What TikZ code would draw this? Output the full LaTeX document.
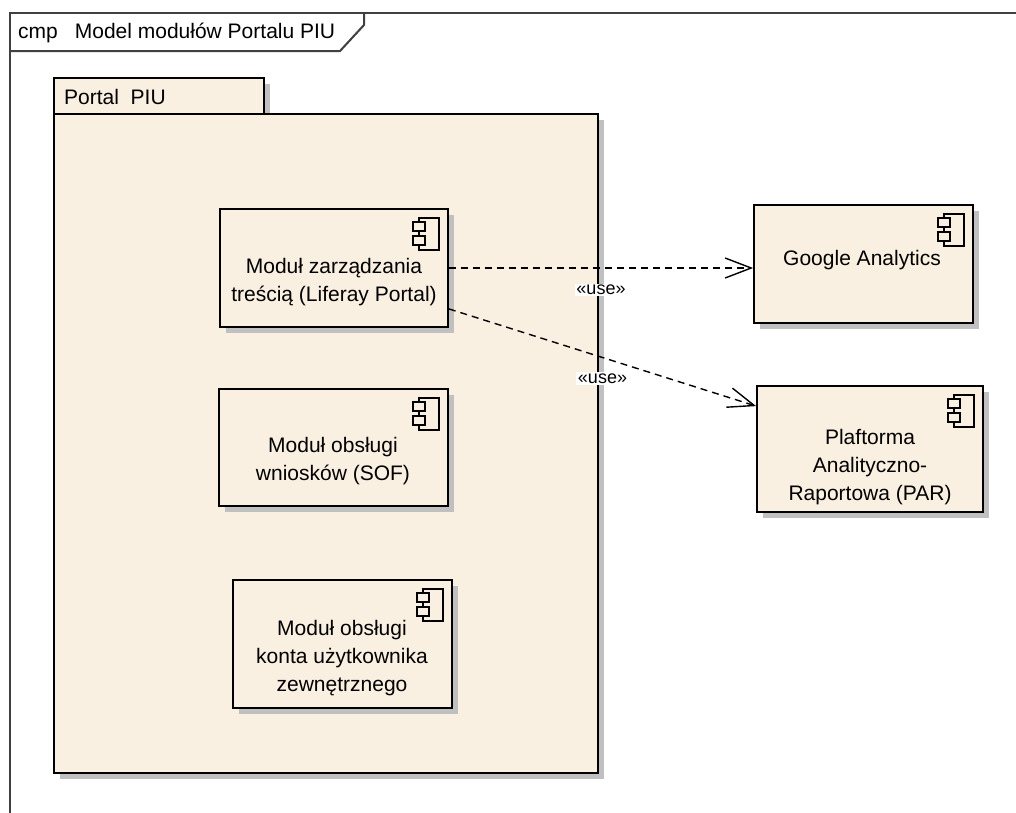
\documentclass[tikz,border=0pt]{standalone}
\usepackage{fontspec}
\setmainfont{Liberation Sans}
\usetikzlibrary{arrows.meta,shadows,calc}
\definecolor{cream}{RGB}{250,240,226}
\definecolor{framegray}{RGB}{64,64,64}
\definecolor{shadowgray}{RGB}{192,192,192}
\tikzset{
  txt/.style={font=\fontsize{21}{28}\selectfont, align=center, inner sep=0pt},
  box/.style={draw=black, line width=1.8pt, fill=cream, inner sep=0pt,
    drop shadow={shadow xshift=6pt, shadow yshift=-6pt, fill=shadowgray, opacity=1}},
  usearrow/.style={draw=black, line width=1.4pt, dash pattern=on 7pt off 5pt,
    -{Straight Barb[length=26pt,width=20pt,line width=1.4pt]}},
  uselabel/.style={fill=white, font=\fontsize{18}{18}\selectfont, inner sep=1.5pt},
  compicon/.pic={
    \draw[line width=1.3pt, fill=cream] (-30,10) rectangle (-10,42);
    \draw[line width=1.3pt, fill=cream] (-36,14) rectangle (-24,23);
    \draw[line width=1.3pt, fill=cream] (-36,28) rectangle (-24,37);
  }
}
\begin{document}
\begin{tikzpicture}[x=1pt,y=-1pt]
\useasboundingbox (0,0) rectangle (1016,812);
\clip (0,0) rectangle (1016,812);
\fill[white] (0,0) rectangle (1016,812);

% diagram frame
\draw[framegray, line width=2pt] (10,13) rectangle (1040,840);
\draw[framegray, line width=2pt] (10,51) -- (340,51) -- (364,25) -- (364,13);
\node[anchor=west, txt] (title) at (18,33) {cmp\hspace{17pt}Model modułów Portalu PIU};

% package
\node[box, anchor=north west, minimum width=210pt, minimum height=36pt] (pkgtab) at (53,77) {};
\node[box, anchor=north west, minimum width=544pt, minimum height=659pt] (pkg) at (53,113) {};
\node[anchor=west, txt] (pkgname) at (64,97) {Portal\ \ PIU};

% components
\node[box, minimum width=228pt, minimum height=118pt] (c1) at (334,268) {};
\pic at (c1.north east) {compicon};
\node[txt] (c1t) at (334,282) {Moduł zarządzania\\treścią (Liferay Portal)};

\node[box, minimum width=229pt, minimum height=117pt] (c2) at (333.5,447.5) {};
\pic at (c2.north east) {compicon};
\node[txt] (c2t) at (333,461) {Moduł obsługi\\wniosków (SOF)};

\node[box, minimum width=219pt, minimum height=128pt] (c3) at (342.5,644) {};
\pic at (c3.north east) {compicon};
\node[txt] (c3t) at (342,658) {Moduł obsługi\\konta użytkownika\\zewnętrznego};

\node[box, minimum width=219pt, minimum height=118pt] (ga) at (863.5,264) {};
\pic at (ga.north east) {compicon};
\node[txt] (gat) at (862,260) {Google Analytics};

\node[box, minimum width=226pt, minimum height=126pt] (par) at (870,449) {};
\pic at (par.north east) {compicon};
\node[txt] (part) at (870,467) {Plaftorma\\Analityczno-\\Raportowa (PAR)};

% dependencies
\draw[usearrow] (c1.east) -- (ga.west |- c1.east)
  node[midway, uselabel, yshift=-22pt] (u1) {«use»};
\draw[usearrow] ($(c1.south east)+(0,-19)$) -- ($(par.north west)+(0,21)$)
  node[midway, uselabel, yshift=-21pt] (u2) {«use»};
\end{tikzpicture}
\end{document}
